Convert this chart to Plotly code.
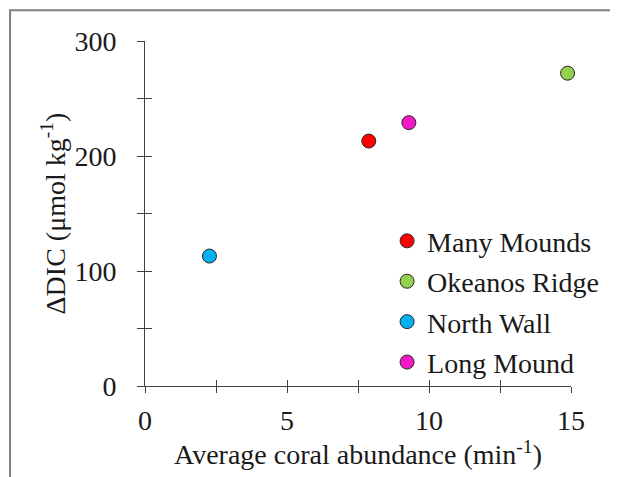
import plotly.graph_objects as go

sites = ["Many Mounds", "Okeanos Ridge", "North Wall", "Long Mound"]
abundance = [7.88, 14.88, 2.27, 9.29]
delta_dic = [213, 272, 113, 229]
colors = ["#FF0000", "#92D050", "#00B0F0", "#F516C8"]

x_tickvals = [0, 2.5, 5, 7.5, 10, 12.5, 15]
x_ticktext = ["0", " ", "5", " ", "10", " ", "15"]
y_tickvals = [0, 50, 100, 150, 200, 250, 300]
y_ticktext = ["0", " ", "100", " ", "200", " ", "300"]

FONT = "Liberation Serif, Times New Roman, serif"
AX = "#404040"
FS = 28

fig = go.Figure()
for s, xv, yv, c in zip(sites, abundance, delta_dic, colors):
    fig.add_trace(go.Scatter(
        x=[xv], y=[yv], mode="markers", name=s, legendgroup=s,
        marker=dict(size=14, color=c, line=dict(color="#262626", width=1)),
        cliponaxis=False,
    ))
fig.add_trace(go.Scatter(x=[], y=[], xaxis="x2", yaxis="y2", showlegend=False))

# page body has an 8px margin, so the figure is drawn 8px in from the window corner
OFF = 8
W, H = 618 - OFF, 477 - OFF
ml, mt = 144.5 - OFF, 40.7 - OFF
mr = W - (570.7 - OFF)
mb = H - (386 - OFF)
pw, ph = W - ml - mr, H - mt - mb

def px_to_px(x):  # window pixel -> paper x
    return (x - OFF - ml) / pw

def py_to_py(y):  # window pixel -> paper y
    return (H - mb - (y - OFF)) / ph

fig.update_layout(
    width=W, height=H,
    margin=dict(l=ml, r=mr, t=mt, b=mb, pad=0),
    paper_bgcolor="white", plot_bgcolor="white",
    font=dict(family=FONT, size=FS, color="#1a1a1a"),
    showlegend=True,
    legend=dict(x=px_to_px(386.7), y=py_to_py(216), xanchor="left", yanchor="top",
                bgcolor="rgba(0,0,0,0)", borderwidth=0,
                font=dict(family=FONT, size=FS, color="#1a1a1a"),
                traceorder="grouped", tracegroupgap=1),
    xaxis=dict(range=[0, 15], tickvals=x_tickvals, ticktext=x_ticktext,
               ticks="outside", ticklen=6, tickwidth=1, tickcolor=AX,
               showline=True, linecolor=AX, linewidth=1, showgrid=False, zeroline=False,
               ticklabelstandoff=3,
               title=dict(text="Average coral abundance (min<sup>-1</sup>)", standoff=8,
                          font=dict(family=FONT, size=FS))),
    yaxis=dict(range=[0, 300], tickvals=y_tickvals, ticktext=y_ticktext,
               ticks="outside", ticklen=7, tickwidth=1, tickcolor=AX,
               showline=True, linecolor=AX, linewidth=1, showgrid=False, zeroline=False,
               ticklabelstandoff=15,
               title=dict(text="ΔDIC (μmol kg<sup>-1</sup>)", standoff=0,
                          font=dict(family=FONT, size=FS))),
    xaxis2=dict(overlaying="x", anchor="y", matches="x", range=[0, 15], tickvals=x_tickvals,
                ticks="inside", ticklen=6, tickwidth=1, tickcolor=AX,
                showticklabels=False, showline=False, showgrid=False, zeroline=False),
    yaxis2=dict(overlaying="y", anchor="x", matches="y", range=[0, 300], tickvals=y_tickvals,
                ticks="inside", ticklen=7, tickwidth=1, tickcolor=AX, side="left",
                showticklabels=False, showline=False, showgrid=False, zeroline=False),
    shapes=[dict(type="rect", xref="paper", yref="paper",
                 x0=px_to_px(9.5), x1=2, y0=-2, y1=py_to_py(10),
                 line=dict(color="#808080", width=2), fillcolor="rgba(0,0,0,0)", layer="below")],
)

fig.write_html("out.html")
